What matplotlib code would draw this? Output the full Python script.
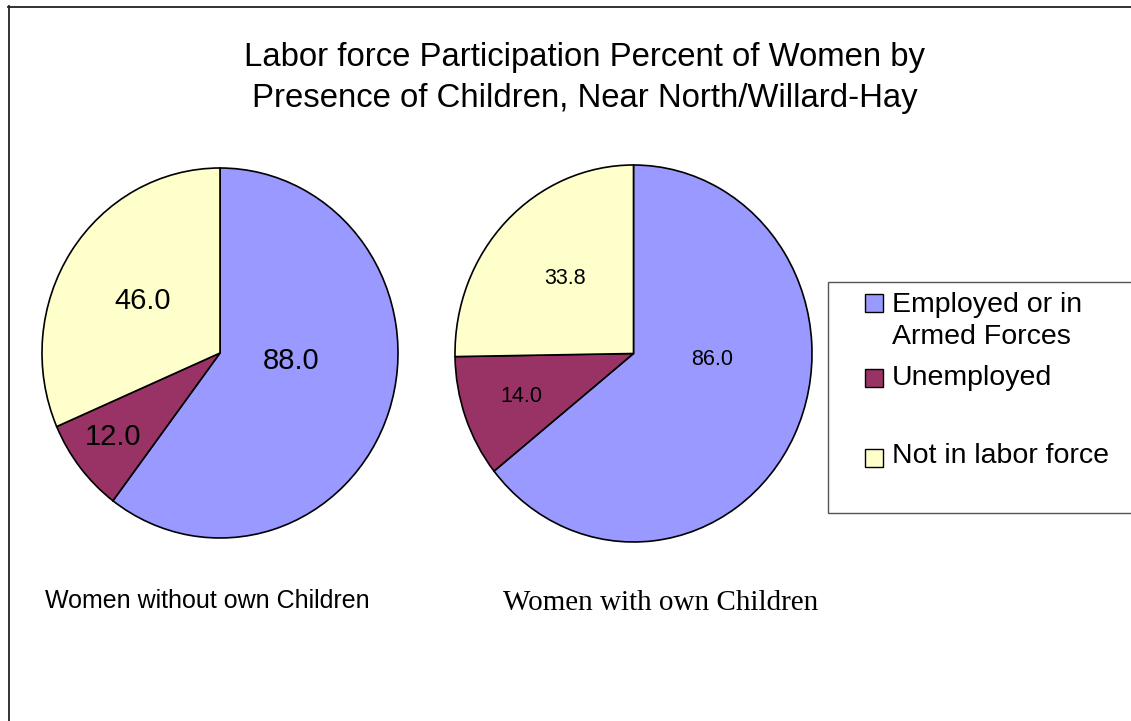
import matplotlib.pyplot as plt
from matplotlib.patches import Rectangle
from matplotlib.lines import Line2D
import numpy as np

# data
categories = ['Employed or in\nArmed Forces', 'Unemployed', 'Not in labor force']
without_children = [88.0, 12.0, 46.0]
with_children = [86.0, 14.0, 33.8]
colors = ['#9999FF', '#993366', '#FFFFCC']

title = 'Labor force Participation Percent of Women by\nPresence of Children, Near North/Willard-Hay'

W, H = 1131, 721
fig = plt.figure(figsize=(W / 100, H / 100), dpi=100)
fig.patch.set_facecolor('white')


def fx(px):
    return px / W


def fy(py):
    return 1 - py / H


# outer frame (only left and top edges are visible)
fig.add_artist(Line2D([fx(8.5), fx(8.5)], [fy(6), fy(H + 5)], color='#222222', lw=1.3))
fig.add_artist(Line2D([fx(8), fx(W + 5)], [fy(6.5), fy(6.5)], color='#222222', lw=1.3))

fig.text(fx(585), fy(78), title, ha='center', va='center', fontsize=23.7,
         family='Liberation Sans', linespacing=1.38)


def draw_pie(rect, values, label_pos, fsize):
    ax = fig.add_axes(rect)
    wedges, _ = ax.pie(values, colors=colors, startangle=90, counterclock=False,
                       wedgeprops=dict(edgecolor='black', linewidth=1.2))
    ax.set_aspect('auto')
    ax.set_xlim(-1, 1)
    ax.set_ylim(-1, 1)
    for w in wedges:
        w.set_clip_on(False)
    for v, (r, ang) in zip(values, label_pos):
        a = np.deg2rad(ang)
        ax.text(r * np.cos(a), r * np.sin(a), f'{v:.1f}', ha='center', va='center',
                fontsize=fsize, family='Liberation Sans')
    return ax


# left pie: x 42..398, y 168..538
draw_pie([fx(42), fy(538), fx(398) - fx(42), fy(168) - fy(538)], without_children,
         [(0.40, -6), (0.75, 217), (0.52, 147)], 21)
# right pie: x 455..812, y 165..542
draw_pie([fx(455), fy(542), fx(812) - fx(455), fy(165) - fy(542)], with_children,
         [(0.44, -4), (0.67, 200), (0.55, 134)], 15.5)

fig.text(fx(45), fy(601), 'Women without own Children', ha='left', va='center',
         fontsize=18, family='Liberation Sans')
fig.text(fx(503), fy(603), 'Women with own Children', ha='left', va='center',
         fontsize=21, family='Liberation Serif')

# legend box
fig.add_artist(Rectangle((fx(828), fy(513)), fx(W + 10) - fx(828), fy(282) - fy(513),
                         transform=fig.transFigure, facecolor='white',
                         edgecolor='#555555', lw=1.0))
leg_y = [303, 378, 458]
text_y = [321, 378, 456]
for c, lab, sy, ty in zip(colors, categories, leg_y, text_y):
    fig.add_artist(Rectangle((fx(865), fy(sy + 9)), fx(18), 18 / H,
                             transform=fig.transFigure, facecolor=c,
                             edgecolor='black', lw=1.0))
    fig.text(fx(892), fy(ty), lab, ha='left', va='center', fontsize=20.5,
             family='Liberation Sans', linespacing=1.3)

fig.savefig('out.png', dpi=100)
